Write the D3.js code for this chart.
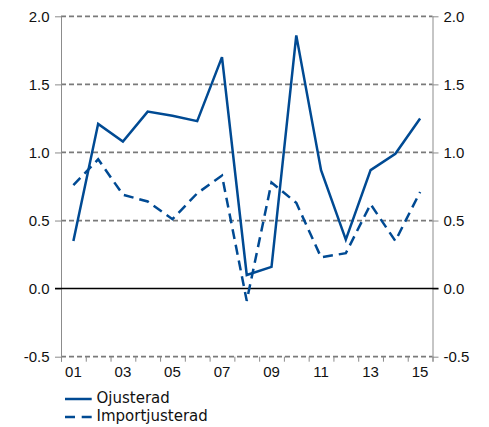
<!DOCTYPE html>
<html>
<head>
<meta charset="utf-8">
<script src="https://cdn.jsdelivr.net/npm/d3@7"></script>
<style>
	body { margin: 0; background: #fff; }
	.axis path, .axis line { stroke: #8c8c8c; }
	.axis text { fill: #111; }
</style>
</head>
<body>
<div class="chart"></div>
<script>
var years = ['01', '02', '03', '04', '05', '06', '07', '08', '09', '10', '11', '12', '13', '14', '15'];
var yearLabels = ['01', '03', '05', '07', '09', '11', '13', '15'];
var ojusterad = [0.35, 1.21, 1.08, 1.30, 1.27, 1.23, 1.70, 0.10, 0.16, 1.86, 0.87, 0.36, 0.87, 0.99, 1.25];
var importjusterad = [0.76, 0.95, 0.69, 0.64, 0.51, 0.70, 0.83, -0.09, 0.78, 0.63, 0.23, 0.26, 0.62, 0.35, 0.71];
var yTicks = [-0.5, 0, 0.5, 1.0, 1.5, 2.0];
var seriesNames = ['Ojusterad', 'Importjusterad'];

var lineColor = '#004a93',
	gridColor = '#7a7a7a',
	fontSize = '15px';

var width = 489, height = 427;
var margin = {left: 61, right: 432.5, top: 16.3, bottom: 356.7};

var svg = d3.select('.chart').append('svg')
	.attr('width', width)
	.attr('height', height)
	.attr('font-family', 'Verdana, "DejaVu Sans", sans-serif')
	.attr('font-size', fontSize);

var x = d3.scaleBand().domain(years).range([margin.left, margin.right]).padding(0);
var xEdges = d3.scaleLinear().domain([0, years.length]).range([margin.left, margin.right]);
var y = d3.scaleLinear().domain([-0.5, 2.0]).range([margin.bottom, margin.top]);

var fmt = function(d) {
	return d3.format('.1f')(d).replace('\u2212', '-');
};

// gridlines
svg.append('g').selectAll('line')
	.data(yTicks.filter(function(d) { return d !== 0; }))
	.enter().append('line')
	.attr('x1', margin.left)
	.attr('x2', margin.right)
	.attr('y1', function(d) { return y(d); })
	.attr('y2', function(d) { return y(d); })
	.attr('stroke', gridColor)
	.attr('stroke-width', 1.8)
	.attr('stroke-dasharray', '5,3');

// bottom tick marks on category edges
svg.append('g')
	.attr('class', 'axis')
	.attr('transform', 'translate(0,' + margin.bottom + ')')
	.call(d3.axisBottom(xEdges)
		.tickValues(d3.range(0, years.length + 1))
		.tickSize(5)
		.tickSizeOuter(0)
		.tickFormat(''))
	.call(function(g) { g.select('.domain').remove(); });

// bottom labels
svg.append('g')
	.attr('class', 'axis')
	.attr('transform', 'translate(0,' + margin.bottom + ')')
	.call(d3.axisBottom(x)
		.tickValues(yearLabels)
		.tickSize(0)
		.tickPadding(10))
	.call(function(g) {
		g.select('.domain').remove();
		g.selectAll('text').attr('font-size', fontSize).attr('font-family', null);
	});

// left and right axes
svg.append('g')
	.attr('class', 'axis')
	.attr('transform', 'translate(' + margin.left + ',0)')
	.call(d3.axisLeft(y)
		.tickValues(yTicks)
		.tickSize(6)
		.tickSizeOuter(0)
		.tickPadding(5.5)
		.tickFormat(fmt))
	.call(function(g) {
		g.selectAll('text').attr('font-size', fontSize).attr('font-family', null);
		g.select('.domain').attr('d', 'M0.5,' + margin.top + 'V' + (margin.bottom + 5));
	});

svg.append('g')
	.attr('class', 'axis')
	.attr('transform', 'translate(' + margin.right + ',0)')
	.call(d3.axisRight(y)
		.tickValues(yTicks)
		.tickSize(6)
		.tickSizeOuter(0)
		.tickPadding(5)
		.tickFormat(fmt))
	.call(function(g) {
		g.selectAll('text').attr('font-size', fontSize).attr('font-family', null);
		g.select('.domain').attr('d', 'M0.5,' + margin.top + 'V' + (margin.bottom + 5));
	});

// zero line
svg.append('line')
	.attr('x1', margin.left - 6)
	.attr('x2', margin.right + 6)
	.attr('y1', y(0))
	.attr('y2', y(0))
	.attr('stroke', '#000')
	.attr('stroke-width', 1.5);

// data lines
var line = d3.line()
	.x(function(d, i) { return x(years[i]) + x.bandwidth() / 2; })
	.y(function(d) { return y(d); });

svg.append('path')
	.datum(importjusterad)
	.attr('d', line)
	.attr('fill', 'none')
	.attr('stroke', lineColor)
	.attr('stroke-width', 2.5)
	.attr('stroke-dasharray', '10,6');

svg.append('path')
	.datum(ojusterad)
	.attr('d', line)
	.attr('fill', 'none')
	.attr('stroke', lineColor)
	.attr('stroke-width', 2.5);

// legend
var legend = svg.append('g').selectAll('g')
	.data(seriesNames)
	.enter().append('g')
	.attr('transform', function(d, i) { return 'translate(65,' + (399 + i * 18) + ')'; });

legend.append('line')
	.attr('x1', 0)
	.attr('x2', 26.7)
	.attr('stroke', lineColor)
	.attr('stroke-width', 2.5)
	.attr('stroke-dasharray', function(d, i) { return i === 1 ? '10,6.7' : null; });

legend.append('text')
	.attr('x', 31.5)
	.attr('y', 3.5)
	.attr('fill', '#111')
	.text(function(d) { return d; });
</script>
</body>
</html>
